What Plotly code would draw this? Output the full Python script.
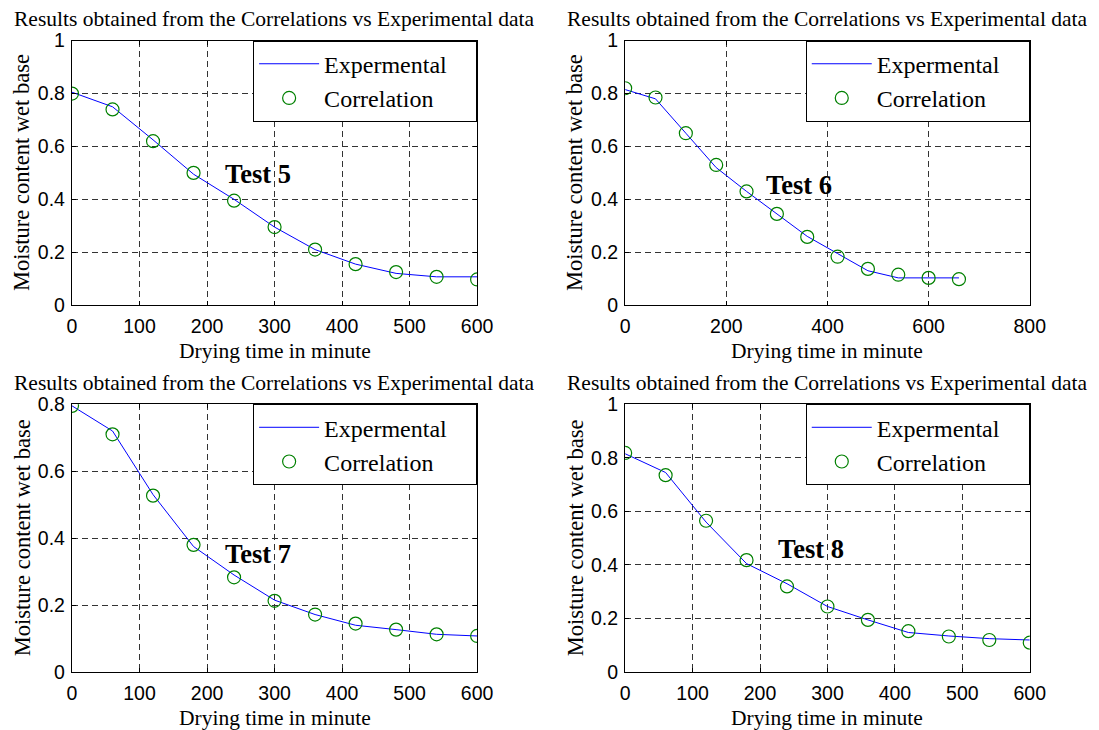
import plotly.graph_objects as go

# ---------------- data ----------------
time_5 = [0, 60, 120, 180, 240, 300, 360, 420, 480, 540, 600]
exp_5 = [0.805, 0.750, 0.625, 0.495, 0.400, 0.295, 0.210, 0.155, 0.120, 0.107, 0.107]
cor_5 = [0.800, 0.740, 0.620, 0.500, 0.395, 0.295, 0.210, 0.155, 0.125, 0.107, 0.097]

time_6 = [0, 60, 120, 180, 240, 300, 360, 420, 480, 540, 600, 660]
exp_6 = [0.815, 0.780, 0.650, 0.520, 0.430, 0.345, 0.260, 0.195, 0.130, 0.103, 0.103, 0.103]
cor_6 = [0.820, 0.785, 0.650, 0.530, 0.430, 0.345, 0.258, 0.183, 0.137, 0.115, 0.103, 0.098]

time_7 = [0, 60, 120, 180, 240, 300, 360, 420, 480, 540, 600]
exp_7 = [0.795, 0.720, 0.530, 0.375, 0.290, 0.215, 0.172, 0.140, 0.127, 0.113, 0.108]
cor_7 = [0.795, 0.710, 0.527, 0.380, 0.283, 0.213, 0.172, 0.145, 0.127, 0.113, 0.108]

time_8 = [0, 60, 120, 180, 240, 300, 360, 420, 480, 540, 600]
exp_8 = [0.815, 0.745, 0.560, 0.405, 0.330, 0.245, 0.195, 0.148, 0.135, 0.125, 0.120]
cor_8 = [0.818, 0.735, 0.565, 0.418, 0.320, 0.245, 0.195, 0.153, 0.133, 0.120, 0.110]

test_labels = ["Test 5", "Test 6", "Test 7", "Test 8"]
test_label_x = [275, 344, 275, 276]
test_label_y = [0.497, 0.455, 0.352, 0.458]

x_ranges = [[0, 600], [0, 800], [0, 600], [0, 600]]
x_dticks = [100, 200, 100, 100]
y_ranges = [[0, 1], [0, 1], [0, 0.8], [0, 1]]

title_text = "Results obtained from the Correlations vs Experimental data"
x_title = "Drying time in minute"
y_title = "Moisture content wet base"
legend_names = ["Expermental", "Correlation"]

# ---------------- layout geometry ----------------
W, H = 1120, 752
# target pixel positions in the final picture
px_left = [(72, 477), (625, 1029.5), (72, 477), (625, 1029.5)]
px_top = [(38.7, 303.5), (38.7, 303.5), (402.7, 671), (402.7, 671)]
SX, OX = 0.981, 5.0
SY, OY = 0.972, 9.0


def fx(px):
    return ((px - OX) / SX) / W


def fy(py):
    return 1 - ((py - OY) / SY) / H


SERIF = "Liberation Serif"
SANS = "Liberation Sans"
PAD = "\u00a0\u00a0\u00a0\u00a0"

fig = go.Figure()
series = [(time_5, exp_5, cor_5), (time_6, exp_6, cor_6),
          (time_7, exp_7, cor_7), (time_8, exp_8, cor_8)]

annotations = []
for i, (t, e, c) in enumerate(series):
    n = i + 1
    xa = "x" if n == 1 else f"x{n}"
    ya = "y" if n == 1 else f"y{n}"
    leg = "legend" if n == 1 else f"legend{n}"
    fig.add_trace(go.Scatter(x=t, y=e, mode="lines", name=legend_names[0] + PAD,
                             line=dict(color="#0000ff", width=1),
                             xaxis=xa, yaxis=ya, legend=leg))
    fig.add_trace(go.Scatter(x=t, y=c, mode="markers", name=legend_names[1] + PAD,
                             marker=dict(symbol="circle-open", size=13,
                                         color="#008000", line=dict(width=1.2, color="#008000")),
                             xaxis=xa, yaxis=ya, legend=leg))

    x0, x1 = px_left[i]
    yt, yb = px_top[i]
    axis_common = dict(showline=True, linecolor="black", linewidth=1.3, mirror="allticks",
                       ticks="inside", ticklen=4, tickcolor="black",
                       showgrid=True, gridcolor="#333333", gridwidth=1, griddash="6px,4px",
                       zeroline=False,
                       tickfont=dict(family=SANS, size=19.5, color="black"))
    xkey = "xaxis" if n == 1 else f"xaxis{n}"
    ykey = "yaxis" if n == 1 else f"yaxis{n}"
    fig.layout[xkey] = dict(domain=[fx(x0), fx(x1)], anchor=ya, range=x_ranges[i],
                            dtick=x_dticks[i], tick0=0, ticklabelstandoff=3, **axis_common)
    fig.layout[ykey] = dict(domain=[fy(yb), fy(yt)], anchor=xa, range=y_ranges[i], dtick=0.2,
                            tick0=0, ticklabelstandoff=2, **axis_common)

    fig.layout[leg] = dict(x=fx(x1), y=fy(yt), xref="paper", yref="paper",
                           xanchor="right", yanchor="top",
                           bgcolor="white", bordercolor="black", borderwidth=1,
                           font=dict(family=SERIF, size=24, color="black"),
                           itemwidth=60, tracegroupgap=0)

    cx = (x0 + x1) / 2
    annotations.append(dict(text=title_text, x=fx(cx), y=fy(yt - 21.5),
                            xref="paper", yref="paper", showarrow=False,
                            xanchor="center", yanchor="middle",
                            font=dict(family=SERIF, size=21.5, color="black")))
    annotations.append(dict(text=x_title, x=fx(cx), y=fy(yb + 45.5),
                            xref="paper", yref="paper", showarrow=False,
                            xanchor="center", yanchor="middle",
                            font=dict(family=SERIF, size=21.5, color="black")))
    annotations.append(dict(text=y_title, x=fx(x0 - 50), y=fy((yt + yb) / 2),
                            xref="paper", yref="paper", showarrow=False, textangle=-90,
                            xanchor="center", yanchor="middle",
                            font=dict(family=SERIF, size=22.5, color="black")))
    annotations.append(dict(text="<b>" + test_labels[i] + "</b>",
                            x=test_label_x[i], y=test_label_y[i], xref=xa, yref=ya,
                            showarrow=False, xanchor="center", yanchor="middle",
                            font=dict(family=SERIF, size=26.5, color="black")))

fig.update_layout(width=W, height=H, margin=dict(l=0, r=0, t=0, b=0),
                  paper_bgcolor="white", plot_bgcolor="white",
                  annotations=annotations, showlegend=True)

fig.write_html("out.html")
